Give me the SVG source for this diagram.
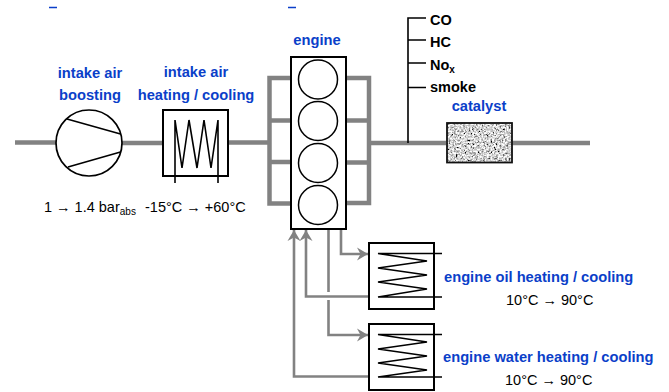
<svg xmlns="http://www.w3.org/2000/svg" width="669" height="392" viewBox="0 0 669 392">
<style>
.b{font:bold 14.700px "Liberation Sans",Arial,sans-serif;fill:#0b3fc9}
.k{font:bold 14.500px "Liberation Sans",Arial,sans-serif;fill:#000}
.t{font:14.500px "Liberation Sans",Arial,sans-serif;fill:#000}
.m{text-anchor:middle}
.s{font-size:10px}
.pipe{fill:none;stroke:#828282;stroke-width:4.5}
.thin{fill:none;stroke:#828282;stroke-width:2.6}
.line{fill:none;stroke:#000;stroke-width:1.6}
.box{fill:#fff;stroke:#000;stroke-width:2}
.cyl{fill:#fff;stroke:#000;stroke-width:1.5}
</style>
<defs>
<marker id="a" markerUnits="userSpaceOnUse" markerWidth="13" markerHeight="14" refX="11" refY="7" orient="auto"><path d="M0 0.5L11 7L0 13.500L3.500 7Z" fill="#828282"/></marker>
<filter id="n" x="0" y="0" width="100%" height="100%"><feTurbulence type="fractalNoise" baseFrequency="0.55" numOctaves="2" seed="4"/><feColorMatrix values="1.300 1.300 1.300 0 -1.300 1.300 1.300 1.300 0 -1.300 1.300 1.300 1.300 0 -1.300 0 0 0 0 1"/></filter>
</defs>
<rect x="0" y="0" width="669" height="392" fill="#fff"/>
<g id="connectors">
<path class="pipe" d="M15 142.500H56M122 143H163M228 142.500H269"/>
<path class="pipe" d="M291 78H269.500V203.500H291M269.500 120.500H291M269.500 162H291"/>
<path class="pipe" d="M346 78H369V203H346M346 120.500H369M346 162.500H369"/>
<path class="pipe" d="M371 143H446M512 143H590"/>
<path class="line" stroke-width="2" d="M426 18H408V143M408 40H426M408 63H426M408 87.500H426"/>
<path class="thin" marker-end="url(#a)" d="M341 229V254H368"/>
<path class="thin" d="M328.500 229V292"/>
<path class="thin" marker-end="url(#a)" d="M328.500 300V335H368"/>
<path class="thin" marker-end="url(#a)" d="M369 296.500H306V230"/>
<path class="thin" marker-end="url(#a)" d="M369 376.500H294V230"/>
</g>
<g id="top-fragments"><path d="M49 7.500H57M288 7.500H296" stroke="#0b3fc9" stroke-width="1.500"/></g>
<g id="intake-boosting">
<circle cx="89" cy="143" r="33" fill="#fff" stroke="#000" stroke-width="1.700"/>
<path class="line" d="M67 119L120.500 134M68 167L120.500 152"/>
<text class="b m" x="90" y="78">intake air</text>
<text class="b m" x="90" y="100">boosting</text>
<text class="t" x="44" y="212">1 → 1.4 bar<tspan class="s" dy="3">abs</tspan></text>
</g>
<g id="intake-heating">
<rect class="box" x="163" y="110" width="65" height="66"/>
<path class="line" d="M175 183V120L182 168L189 120L197 168L204 120L211 168L218 120V183"/>
<text class="b m" x="196" y="77">intake air</text>
<text class="b m" x="196" y="100">heating / cooling</text>
<text class="t" x="145" y="212">-15°C → +60°C</text>
</g>
<g id="engine">
<rect class="box" x="291" y="57" width="55" height="172"/>
<circle class="cyl" cx="318" cy="79.500" r="19.500"/>
<circle class="cyl" cx="318" cy="121" r="19.500"/>
<circle class="cyl" cx="318" cy="163" r="19.500"/>
<circle class="cyl" cx="318" cy="205" r="19.500"/>
<text class="b m" x="317" y="45">engine</text>
</g>
<g id="emissions">
<text class="k" x="430" y="25">CO</text>
<text class="k" x="430" y="47">HC</text>
<text class="k" x="430" y="70">No<tspan class="s" dy="3">x</tspan></text>
<text class="k" x="430" y="92">smoke</text>
</g>
<g id="catalyst">
<rect x="447" y="123" width="65" height="39.500" filter="url(#n)"/>
<rect x="447" y="123" width="65" height="39.500" fill="none" stroke="#111" stroke-width="1.800"/>
<text class="b m" x="479" y="111">catalyst</text>
</g>
<g id="oil-exchanger">
<rect class="box" x="369" y="243" width="65" height="66"/>
<path class="line" d="M442 253.500H378L427 261L378 268L427 275L378 282L427 289L378 297H442"/>
<text class="b" x="444" y="282">engine oil heating / cooling</text>
<text class="t" x="506" y="305">10°C → 90°C</text>
</g>
<g id="water-exchanger">
<rect class="box" x="369" y="324" width="65" height="66"/>
<path class="line" d="M442 334.500H378L427 342L378 349L427 356L378 363L427 370L378 377H442"/>
<text class="b" x="443" y="362">engine water heating / cooling</text>
<text class="t" x="505" y="385">10°C → 90°C</text>
</g>
</svg>
